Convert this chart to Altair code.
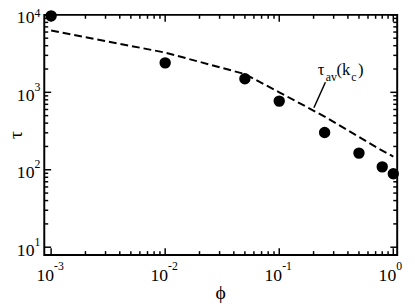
import altair as alt
import pandas as pd

# data
phi_points = [0.001, 0.01, 0.05, 0.1, 0.25, 0.5, 0.8, 1.0]
tau_points = [9700, 2400, 1500, 770, 303, 164, 109, 89]
phi_line = [0.001, 0.01, 0.05, 0.1, 0.25, 0.5, 0.75, 1.0]
tau_line = [6270, 3260, 1720, 1000, 487, 266, 186, 148]

x_major = [0.001, 0.01, 0.1, 1.0]
x_exp = ["-3", "-2", "-1", "0"]
y_major = [10, 100, 1000, 10000]
y_exp = ["1", "2", "3", "4"]

# annotation
label_anchor_phi = [0.218]
label_anchor_tau = [1690]
leader_phi = [0.254, 0.2014]
leader_tau = [1349, 632]

W, H = 360, 245
FONT = "Liberation Serif"

xs = alt.Scale(type="log", domain=[0.000871, 1.082], nice=False)
ys = alt.Scale(type="log", domain=[7.92, 10000], nice=False)

def minors(majors):
    out = []
    for m in majors[:-1]:
        for k in range(2, 10):
            out.append(m * k)
    return out

x_minor = minors(x_major)
y_minor = minors(y_major)

pts = pd.DataFrame({"phi": phi_points, "tau": tau_points})
ln = pd.DataFrame({"phi": phi_line, "tau": tau_line})
xmaj = pd.DataFrame({"v": x_major, "e": x_exp})
ymaj = pd.DataFrame({"v": y_major, "e": y_exp})
xmin = pd.DataFrame({"v": x_minor})
ymin = pd.DataFrame({"v": y_minor})

X = lambda f: alt.X(f, scale=xs, axis=None)
Y = lambda f: alt.Y(f, scale=ys, axis=None)

layers = []

line = alt.Chart(ln).mark_line(color="black", strokeWidth=2, strokeDash=[8, 4]).encode(
    x=X("phi:Q"), y=Y("tau:Q"))
layers.append(line)

points = alt.Chart(pts).mark_circle(color="black", opacity=1, size=135).encode(
    x=X("phi:Q"), y=Y("tau:Q"))
layers.append(points)

# ticks on all four sides (inward)
def xticks(df, length):
    bottom = alt.Chart(df).mark_rule(color="black", strokeWidth=1.5).encode(
        x=X("v:Q"), y=alt.value(H), y2=alt.value(H - length))
    top = alt.Chart(df).mark_rule(color="black", strokeWidth=1.5).encode(
        x=X("v:Q"), y=alt.value(0), y2=alt.value(length))
    return [bottom, top]

def yticks(df, length):
    left = alt.Chart(df).mark_rule(color="black", strokeWidth=1.5).encode(
        y=Y("v:Q"), x=alt.value(0), x2=alt.value(length))
    right = alt.Chart(df).mark_rule(color="black", strokeWidth=1.5).encode(
        y=Y("v:Q"), x=alt.value(W), x2=alt.value(W - length))
    return [left, right]

layers += xticks(xmaj, 7) + xticks(xmin, 4) + yticks(ymaj, 7) + yticks(ymin, 4)

# tick labels
xl10 = alt.Chart(xmaj).mark_text(font=FONT, fontSize=18, align="right", baseline="alphabetic",
                                 dx=3, color="black").encode(
    x=X("v:Q"), y=alt.value(H + 26), text=alt.value("10"))
xlexp = alt.Chart(xmaj).mark_text(font=FONT, fontSize=12, align="left", baseline="alphabetic",
                                  dx=3, color="black").encode(
    x=X("v:Q"), y=alt.value(H + 15), text="e:N")
yl10 = alt.Chart(ymaj).mark_text(font=FONT, fontSize=18, align="right", baseline="alphabetic",
                                 dy=8.5, color="black").encode(
    y=Y("v:Q"), x=alt.value(-10), text=alt.value("10"))
ylexp = alt.Chart(ymaj.iloc[:-1]).mark_text(font=FONT, fontSize=12, align="left", baseline="alphabetic",
                                            dy=-1.5, color="black").encode(
    y=Y("v:Q"), x=alt.value(-10), text="e:N")
ylexp_top = alt.Chart(ymaj.iloc[-1:]).mark_text(font=FONT, fontSize=12, align="left", baseline="alphabetic",
                                                dy=2, color="black").encode(
    y=Y("v:Q"), x=alt.value(-10), text="e:N")
layers += [xl10, xlexp, yl10, ylexp, ylexp_top]

# axis titles
ytitle = alt.Chart(pd.DataFrame({"t": ["τ"]})).mark_text(
    font=FONT, fontSize=20, angle=270, align="center", baseline="middle", color="black").encode(
    x=alt.value(-29), y=alt.value(H / 2), text="t:N")
xtitle = alt.Chart(pd.DataFrame({"t": ["ϕ"]})).mark_text(
    font=FONT, fontSize=20, align="center", baseline="middle", color="black").encode(
    x=alt.value(W / 2), y=alt.value(H + 39), text="t:N")
layers += [ytitle, xtitle]

# curve label  tau_av(k_c)
anc = pd.DataFrame({"phi": label_anchor_phi, "tau": label_anchor_tau})
pieces = [("τ", 17, 0, 0), ("av", 12, 8, 6), ("(k", 17, 19, 0), ("c", 12, 34, 6), (")", 17, 41, 0)]
for txt, fs, dx, dy in pieces:
    layers.append(alt.Chart(anc).mark_text(font=FONT, fontSize=fs, align="left", baseline="alphabetic",
                                           dx=dx, dy=dy, color="black").encode(
        x=X("phi:Q"), y=Y("tau:Q"), text=alt.value(txt)))

leader = pd.DataFrame({"phi": leader_phi, "tau": leader_tau})
layers.append(alt.Chart(leader).mark_line(color="black", strokeWidth=1.5).encode(
    x=X("phi:Q"), y=Y("tau:Q")))

chart = alt.layer(*layers).properties(
    width=W, height=H,
    autosize=alt.AutoSizeParams(type="none"),
    padding={"left": 37, "top": 4, "right": 10, "bottom": 51},
).configure_view(stroke="black", strokeWidth=2)

chart.save("out.html", embed_options={"renderer": "svg", "actions": False})
